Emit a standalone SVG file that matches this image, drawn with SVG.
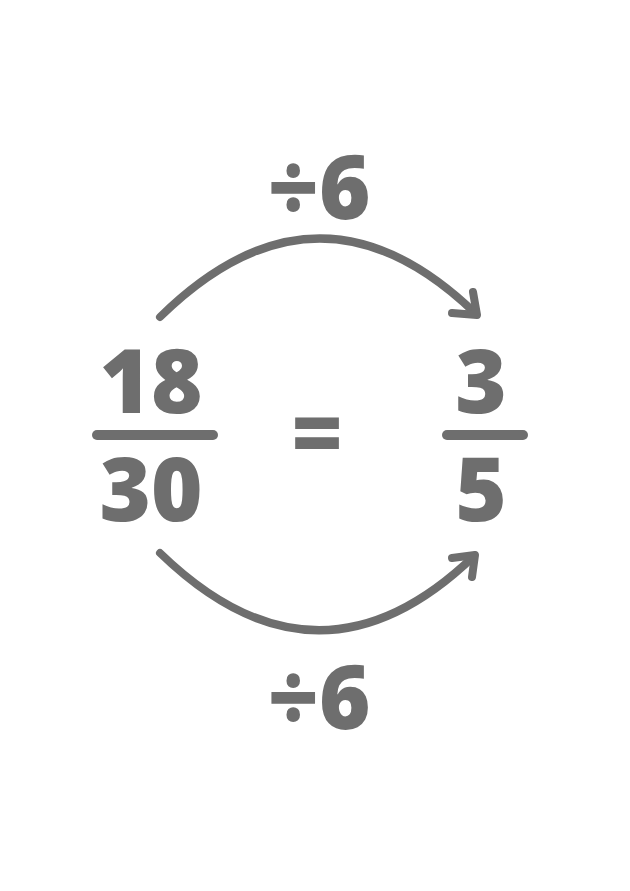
<svg xmlns="http://www.w3.org/2000/svg" width="630" height="891" viewBox="0 0 630 891">
<style>
.t{font-family:"Open Sans","Noto Sans","Liberation Sans",sans-serif;font-weight:800;fill:#6e6e6e;text-anchor:middle}
.big{font-size:88px}
.bar{stroke:#6e6e6e;stroke-width:10;stroke-linecap:round}
.arc{fill:none;stroke:#6e6e6e;stroke-width:8;stroke-linecap:round;stroke-linejoin:round}
</style>
<rect width="630" height="891" fill="#ffffff"/>
<g id="connectors">
<path class="arc" d="M160,317 Q318,162 475,313"/>
<path class="arc" d="M452,313 L477,315 L473,292"/>
<path class="arc" d="M160,553 Q318,706 474,556"/>
<path class="arc" d="M452,558 L475,555 L472,577"/>
</g>
<g id="label-top"><text class="t big" x="319" y="219">÷6</text></g>
<g id="label-bottom"><text class="t big" x="319" y="729">÷6</text></g>
<g id="fraction-left">
<text class="t big" x="151" y="413">18</text>
<line class="bar" x1="97" y1="435" x2="213" y2="435"/>
<text class="t big" x="151" y="521">30</text>
</g>
<g id="equals"><text class="t big" x="317" y="465">=</text></g>
<g id="fraction-right">
<text class="t big" x="481" y="413">3</text>
<line class="bar" x1="447" y1="435" x2="523" y2="435"/>
<text class="t big" x="481" y="521">5</text>
</g>
</svg>
